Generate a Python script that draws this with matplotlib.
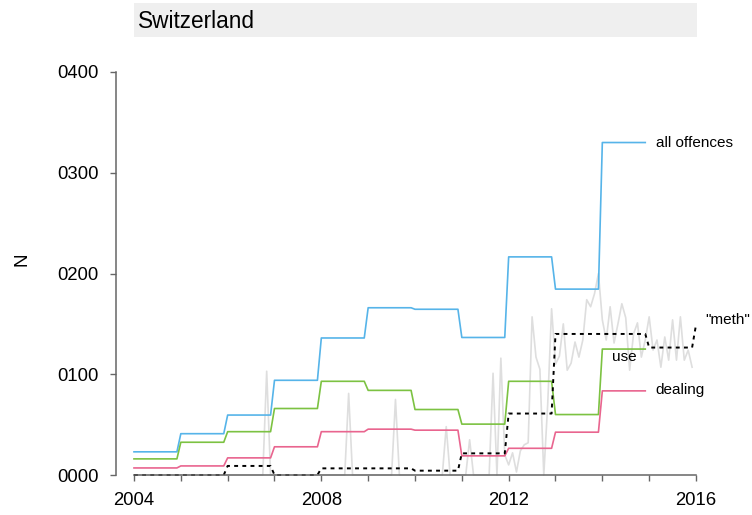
import matplotlib
matplotlib.use('Agg')
import matplotlib.pyplot as plt
from matplotlib.patches import Rectangle
from matplotlib.ticker import FixedLocator
import numpy as np

plt.rcParams['font.family'] = ['Liberation Sans', 'DejaVu Sans']

# yearly levels (plotted monthly, so each year is a flat step)
years = list(range(2004, 2015))
all_offences = [23, 41, 59.5, 94, 136, 166, 164.5, 136.5, 216.5, 184.5, 330]
use = [16, 32.5, 43, 66, 93, 84, 65, 50.5, 93, 60, 125]
dealing = [7, 9, 17, 28, 43, 45.5, 44.5, 19, 26.5, 42.5, 83.5]

meth_years = list(range(2004, 2016))
meth_level = [0, 0, 9, 0, 6.6, 6.6, 4.3, 21.5, 61, 140, 140, 126.5]
meth_last = 149  # value at 2016-01

# monthly search interest (grey), 2004-01 .. 2015-12
grey_monthly = (
    [0] * 12 +                                                    # 2004
    [0] * 12 +                                                    # 2005
    [0, 0, 0, 0, 0, 0, 0, 0, 0, 0, 103, 0] +                      # 2006
    [0] * 12 +                                                    # 2007
    [0, 0, 0, 0, 0, 0, 0, 81, 0, 0, 0, 0] +                       # 2008
    [0, 0, 0, 0, 0, 0, 0, 75, 0, 0, 0, 0] +                       # 2009
    [0, 0, 0, 0, 0, 0, 0, 0, 48, 0, 0, 0] +                       # 2010
    [0, 0, 35, 0, 0, 0, 0, 0, 101, 0, 116, 20] +                  # 2011
    [10, 22, 3, 24, 30, 32, 157, 117, 105, 0, 70, 165] +          # 2012
    [110, 118, 150, 104, 111, 132, 117, 134, 174, 167, 180, 200] +  # 2013
    [154, 134, 167, 131, 150, 170, 156, 104, 140, 151, 117, 134] +  # 2014
    [157, 124, 134, 107, 137, 114, 154, 114, 157, 114, 124, 107]    # 2015
)

months = np.arange(12) / 12.0


def monthly(yrs, vals):
    x = np.concatenate([y + months for y in yrs])
    v = np.repeat(vals, 12)
    return x, v


fig = plt.figure(figsize=(7.52, 5.15), dpi=100)
W, H = 752, 515
ax = fig.add_axes([116 / W, 1 - 475 / H, (696 - 116) / W, (475 - 72) / H])

# grey monthly series
gx = 2004 + np.arange(len(grey_monthly)) / 12.0
ax.plot(gx, grey_monthly, color='#dedede', lw=1.2, clip_on=False)

x, v = monthly(years, all_offences)
ax.plot(x, v, color='#56B4E9', lw=1.2, clip_on=False)
x, v = monthly(years, use)
ax.plot(x, v, color='#7CC242', lw=1.2, clip_on=False)
x, v = monthly(years, dealing)
ax.plot(x, v, color='#E9658F', lw=1.2, clip_on=False)

x, v = monthly(meth_years, meth_level)
x = np.append(x, 2016.0)
v = np.append(v, meth_last)
ax.plot(x, v, color='black', lw=1.4, linestyle=(0, (2, 2.2)), clip_on=False)

# line labels
ax.text(2015.15, 330, 'all offences', fontsize=11, va='center', ha='left')
ax.text(2014.2, 117, 'use', fontsize=11, va='center', ha='left')
ax.text(2015.13, 84, 'dealing', fontsize=11, va='center', ha='left')
ax.text(2016.2, 154, '"meth"', fontsize=11, va='center', ha='left', clip_on=False)

ax.set_xlim(2003.616, 2016.0)
ax.set_ylim(0, 400)

for s in ['top', 'right']:
    ax.spines[s].set_visible(False)
ax.spines['left'].set_bounds(0, 400)
ax.spines['bottom'].set_bounds(2004, 2016)
for s in ['left', 'bottom']:
    ax.spines[s].set_color('#666666')
    ax.spines[s].set_linewidth(1.1)

ax.set_yticks([0, 100, 200, 300, 400])
ax.set_yticklabels(['{:04d}'.format(t) for t in [0, 100, 200, 300, 400]])
ax.set_xticks([2004, 2008, 2012, 2016])
ax.set_xticklabels(['2004', '2008', '2012', '2016'])
ax.xaxis.set_minor_locator(FixedLocator(list(range(2004, 2017))))
ax.tick_params(axis='both', which='both', length=4.3, width=1.0, color='#666666',
               labelsize=13.3)
ax.tick_params(axis='y', pad=8)
ax.tick_params(axis='x', pad=8)

fig.text(22 / W, 1 - 259 / H, 'N', rotation=90, fontsize=13.5, ha='center', va='center')

# title strip
fig.patches.append(Rectangle((134 / W, 1 - 37 / H), (697 - 134) / W, 34 / H,
                             transform=fig.transFigure, facecolor='#efefef',
                             edgecolor='none', zorder=0))
fig.text(138 / W, 1 - 21 / H, 'Switzerland', fontsize=16.3, ha='left', va='center')

fig.savefig('out.png', dpi=100)
